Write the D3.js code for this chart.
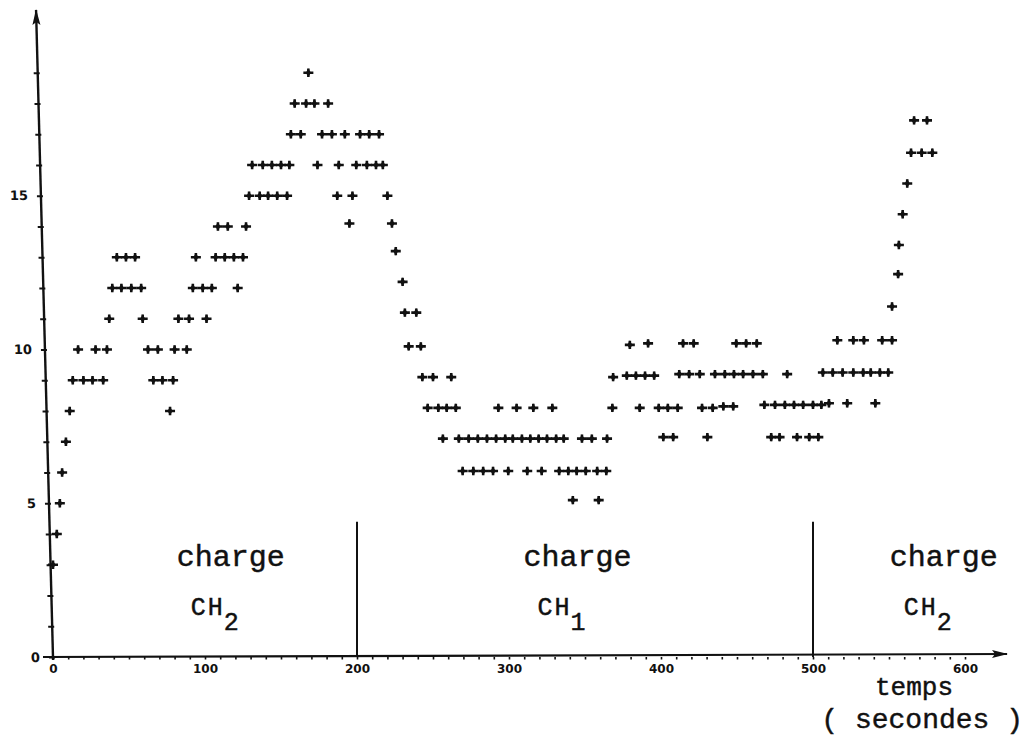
<!DOCTYPE html>
<html>
<head>
<meta charset="utf-8">
<script src="https://cdn.jsdelivr.net/npm/d3@7/dist/d3.min.js"></script>
<style>
  html, body { margin: 0; padding: 0; background: #fff; }
  svg { display: block; }
  .tick text { font-family: "DejaVu Sans", sans-serif; font-weight: bold; fill: #111; }
  .mono { font-family: "Liberation Mono", "DejaVu Sans Mono", monospace; fill: #111; stroke: #111; stroke-width: 0.45; }
</style>
</head>
<body>
<svg id="chart" width="1025" height="740"></svg>
<script>
// Readings [time (s), value] for each phase of the run
const phaseCH2a = [
  [0,3],[2.5,4],[4.5,5],[6,6],[8.5,7],[11,8],
  [13,9],[20,9],[26,9],[33,9],[66,9],[72,9],[79,9],
  [16.5,10],[28,10],[35.5,10],[62.5,10],[69,10],[80,10],[88,10],
  [77,8],
  [37,11],[59,11],[82.5,11],[89.5,11],[101,11],
  [39,12],[45,12],[51.5,12],[58,12],[92,12],[98.5,12],[104.5,12],[121.5,12],
  [42,13],[48,13],[54,13],[94,13],[107,13],[113,13],[119,13],[125,13],
  [108.5,14],[115,14],[127,14],[195,14.1],
  [129,15],[136,15],[141.5,15],[147.5,15],[154,15],[187,15],[197,15],
  [131,16],[138,16],[144,16],[150,16],[155.5,16],[174,16],[188,16],[199.5,16],
  [156.5,17],[163,17],[177,17],[183.5,17],[192,17],
  [159,18],[166.5,18],[172,18],[181,18],
  [168,19]
];
const phaseCH1 = [
  [202,17],[208,17],[214.5,17],[206.5,16],[212.5,16],[217,16],[220,15],
  [223,14.1],[225.5,13.2],[230,12.2],[231.5,11.2],[239,11.2],[234,10.1],[242,10.1],
  [243,9.1],[250,9.1],[262,9.1],[246.5,8.1],[253.5,8.1],[259,8.1],[265,8.1],
  [256.5,7.1],[267,7.1],[273.5,7.1],[279.5,7.1],[285.5,7.1],[291.5,7.1],[297.5,7.1],
  [302.5,7.1],[308.5,7.1],[314,7.1],[319.5,7.1],[325,7.1],[331,7.1],[336,7.1],
  [348,7.1],[354.5,7.1],[364.5,7.1],
  [269.5,6.05],[276.5,6.05],[283,6.05],[289.5,6.05],[299.5,6.05],[312,6.05],[321.5,6.05],
  [333,6.05],[339,6.05],[344.5,6.05],[350.5,6.05],[358,6.05],[364,6.05],
  [342,5.1],[359,5.1],
  [293,8.1],[305,8.1],[316,8.1],[328.5,8.1],[368,8.1],[386,8.1],[398.5,8.1],[404.5,8.1],
  [411,8.1],[427,8.1],[434,8.1],[441,8.15],[447.5,8.15],[468,8.2],[475,8.2],[481.5,8.2],
  [487.5,8.2],[493.5,8.2],
  [368.5,9.1],[377.5,9.15],[383.5,9.15],[389.5,9.15],[395.5,9.15],[412,9.2],[418.5,9.2],
  [425.5,9.2],[435.5,9.2],[442,9.2],[448,9.2],[454,9.2],[460.5,9.2],[467,9.2],[483,9.2],
  [379.5,10.15],[391.5,10.2],[414.5,10.2],[421.5,10.2],[449.5,10.2],[456,10.2],[463,10.2],
  [401.5,7.15],[408,7.15],[430.5,7.15],[472.5,7.15],[478,7.15],[489.5,7.15],[497.5,7.15]
];
const phaseCH2b = [
  [503.5,7.15],[500,8.2],[505.5,8.2],[510.5,8.25],[522.5,8.25],[541,8.25],
  [506.5,9.25],[513,9.25],[519.5,9.25],[526.5,9.25],[533,9.25],[538,9.25],[544,9.25],[549.5,9.25],
  [516,10.3],[526.5,10.3],[533.5,10.3],[545.5,10.3],[552,10.3],
  [552,11.4],[556,12.45],[556.5,13.4],[559,14.4],[562,15.4],
  [564.5,16.4],[571.5,16.4],[578.5,16.4],[566.5,17.45],[575,17.45]
];

const xTickLabels = [0, 100, 200, 300, 400, 500, 600];
const yTickLabels = [0, 5, 10, 15];
const phaseBounds = [200, 500];
const phaseNames = [
  { t: 117, word: "charge", ch: "CH", sub: "2" },
  { t: 345, word: "charge", ch: "CH", sub: "1" },
  { t: 586, word: "charge", ch: "CH", sub: "2" }
];

const svg = d3.select("#chart");
const x0 = 53, y0 = 657;
const x = d3.scaleLinear().domain([0, 600]).range([x0, 965]);
const y = d3.scaleLinear().domain([0, 19]).range([y0, y0 - 19 * 30.75]);
const xEnd = x.invert(1007);
const yTop = y.invert(10);

// arrowheads
const defs = svg.append("defs");
defs.append("marker").attr("id", "arrow")
  .attr("viewBox", "0 0 16 10").attr("refX", 15).attr("refY", 5)
  .attr("markerWidth", 16).attr("markerHeight", 10)
  .attr("markerUnits", "userSpaceOnUse").attr("orient", "auto")
  .append("path").attr("d", "M0,1 L16,5 L0,9 L3,5 Z").attr("fill", "#111");

// x axis
const gx = svg.append("g").attr("transform", `translate(0,${y0})`);
gx.call(d3.axisBottom(x).tickValues(d3.range(0, 601, 10)).tickSize(2.5).tickPadding(4)
  .tickFormat(d => xTickLabels.includes(d) ? d : ""));
gx.select(".domain").remove();
gx.selectAll(".tick line").attr("stroke", "#111").attr("stroke-width", 1.6);
gx.selectAll(".tick text").attr("font-size", 12).attr("dy", "0.8em");
gx.append("line").attr("x1", x(0) - 10).attr("x2", x(xEnd)).attr("y1", 0).attr("y2", -3)
  .attr("stroke", "#111").attr("stroke-width", 2.2).attr("marker-end", "url(#arrow)");

// y axis (slightly leaning, as drawn by hand)
const gy = svg.append("g")
  .attr("transform", `translate(${x0},${y0}) skewX(1.5) translate(0,${-y0})`);
gy.call(d3.axisLeft(y).tickValues(d3.range(0, 20)).tickSize(4).tickPadding(9)
  .tickFormat(d => yTickLabels.includes(d) ? d : ""));
gy.select(".domain").remove();
gy.selectAll(".tick line").attr("x1", -4).attr("x2", 2).attr("stroke", "#111").attr("stroke-width", 2);
gy.selectAll(".tick text").attr("font-size", 13);
gy.append("line").attr("x1", 0).attr("x2", 0).attr("y1", y(0) + 3).attr("y2", y(yTop))
  .attr("stroke", "#111").attr("stroke-width", 2.4).attr("marker-end", "url(#arrow)");

// phase boundaries
svg.append("g").selectAll("line").data(phaseBounds).join("line")
  .attr("x1", d => x(d)).attr("x2", d => x(d))
  .attr("y1", y(0)).attr("y2", y(4.4))
  .attr("stroke", "#111").attr("stroke-width", 2);

// phase labels
const lab = svg.append("g").attr("class", "mono");
phaseNames.forEach(p => {
  lab.append("text").attr("x", x(p.t)).attr("y", 566)
    .attr("text-anchor", "middle").attr("font-size", 30).text(p.word);
  const t = lab.append("text").attr("x", x(p.t) - 40).attr("y", 615)
    .attr("font-size", 25);
  t.append("tspan").attr("letter-spacing", 2).text(p.ch);
  t.append("tspan").attr("dy", 15).attr("dx", -1).text(p.sub);
});

// axis title
lab.append("text").attr("x", 875).attr("y", 695)
  .attr("font-size", 26).text("temps");
lab.append("text").attr("x", 1023).attr("y", 728).attr("text-anchor", "end")
  .attr("font-size", 28).text("( secondes )");

// data markers
const plusPath = "M-5,0H5M0,-4.2V4.2";
const marks = svg.append("g");
[phaseCH2a, phaseCH1, phaseCH2b].forEach(series => {
  const g = marks.append("g").selectAll("g").data(series).join("g")
    .attr("transform", d => `translate(${x(d[0])},${y(d[1])})`);
  g.append("path").attr("d", plusPath).attr("stroke", "#111").attr("stroke-width", 2.6);
  g.append("path").attr("d", d3.symbol(d3.symbolDiamond, 22)).attr("fill", "#111");
});
</script>
</body>
</html>
